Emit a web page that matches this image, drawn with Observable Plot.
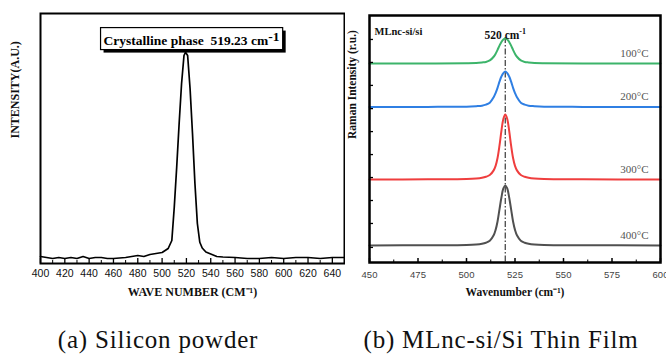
<!DOCTYPE html>
<html><head><meta charset="utf-8">
<script src="https://cdn.jsdelivr.net/npm/d3@7"></script>
<script src="https://cdn.jsdelivr.net/npm/@observablehq/plot@0.6"></script>
<style>
body{margin:0;background:#fff;}
#wrap{position:relative;width:666px;height:354px;overflow:hidden;background:#fff;}
#a{position:absolute;left:0;top:0;}
#b{position:absolute;left:345px;top:0;}
.cap{position:absolute;top:327px;line-height:25px;font-family:"Liberation Serif",serif;font-size:25px;letter-spacing:0.8px;color:#111;white-space:nowrap;transform:translateX(-50%);}
</style>
</head><body>
<div id="wrap">
  <div id="a"></div>
  <div id="b"></div>
  <div class="cap" id="capA" style="left:158px">(a) Silicon powder</div>
  <div class="cap" id="capB" style="left:501px">(b) MLnc-si/Si Thin Film</div>
</div>
<script>
// ---------- Panel (a): silicon powder Raman spectrum ----------
const powderWn  = [400,405,410,415,420,425,430,435,440,445,450,455,460,470,480,485,490,495,500,505,508,510,512,514,516,518,519.23,521,523,525,527,529,531,533,536,540,545,550,560,570,580,590,600,610,620,630,640,650];
const powderInt = [28,24,20,24,20,24,20,28,20,24,24,20,20,24,32,28,36,40,44,60,92,225,385,559,719,832,845,832,700,520,320,160,85,62,46,38,28,26,24,20,20,24,20,24,24,20,24,24];
const powderTicks = [400,420,440,460,480,500,520,540,560,580,600,620,640];
const powderMinor = [410,430,450,470,490,510,530,550,570,590,610,630,650];
const peakWn = 519.23;
const peakLabel = "Crystalline phase\u00a0\u00a0519.23 cm";

// ---------- Panel (b): MLnc-si/Si thin film spectra ----------
const filmWn = [450,480,500,505,508,510,512,514,515,516,517,518,519,520,521,522,523,524,525,526,528,530,532,535,540,560,600];
const temps = ["100°C","200°C","300°C","400°C"];
const colors = ["#3cb46a","#2f7fe3","#ef3e3e","#505050"];
const int100 = [80.6,80.6,80.7,80.8,81.0,81.2,81.8,83.3,84.5,86.1,87.8,89.3,90.3,90.7,90.3,89.3,87.8,86.1,84.5,83.3,81.8,81.2,81.0,80.8,80.7,80.6,80.6];
const int200 = [63.0,63.0,63.1,63.3,63.5,63.9,64.7,66.9,68.6,70.7,73.2,75.3,76.7,77.3,76.7,75.3,73.2,70.7,68.6,66.9,64.7,63.9,63.5,63.3,63.1,63.0,63.0];
const int300 = [33.6,33.7,33.8,34.0,34.3,34.7,35.4,37.3,39.1,42.3,47.3,53.3,58.1,59.9,58.1,53.3,47.3,42.3,39.1,37.3,35.4,34.7,34.3,34.0,33.8,33.7,33.6];
const int400 = [6.9,7.0,7.1,7.3,7.6,8.0,8.8,11.0,13.2,16.6,21.5,26.3,30.0,31.2,30.0,26.3,21.5,16.6,13.2,11.0,8.8,8.0,7.6,7.3,7.1,7.0,6.9];
const filmTicks = [450,475,500,525,550,575,600];
const filmMinor = [462.5,487.5,512.5,537.5,562.5,587.5];
const filmYTicks = [6.1,15.8,25.1,34.4,43.7,53.0,62.3,71.7,81.0,90.3];
const refWn = 520;

// ---------- build tables ----------
const powder = powderWn.map((w,i)=>({wn:w, int:powderInt[i]}));
const filmSeries = [int100,int200,int300,int400];
const film = filmSeries.flatMap((s,k)=>s.map((v,i)=>({wn:filmWn[i], int:v, temp:temps[k]})));
const tempLabels = filmSeries.map((s,k)=>({wn:filmWn[filmWn.length-1], int:s[s.length-1], temp:temps[k]}));

const serifB = {fontFamily:"Liberation Serif", fontWeight:"bold", fill:"#111"};

const plotA = Plot.plot({
  width:345, height:310,
  marginLeft:40, marginRight:1, marginTop:13, marginBottom:47,
  x:{domain:[400,650]},
  y:{domain:[0,1000], axis:null},
  style:{fontFamily:"Liberation Sans", fontSize:"10px", color:"#111", background:"transparent"},
  marks:[
    Plot.line(powder,{x:"wn", y:"int", stroke:"#000", strokeWidth:1.7, strokeLinejoin:"round"}),
    Plot.tickX(powderTicks,{x:d=>d, insetTop:245, stroke:"#000", strokeWidth:1.3}),
    Plot.tickX(powderMinor,{x:d=>d, insetTop:247, stroke:"#000", strokeWidth:1}),
    Plot.axisX({ticks:powderTicks, tickSize:0, tickPadding:6.5, label:null, fontSize:10.5}),
    Plot.frame({stroke:"#000", strokeWidth:2}),
    Plot.text([{wn:peakWn}],{x:"wn", frameAnchor:"top", dy:22, dx:6, text:()=>peakLabel, fontSize:13.5, ...serifB, fill:"#000"}),
    Plot.text(["INTENSITY(A.U.)"],{frameAnchor:"left", dx:-25, rotate:-90, text:d=>d, fontSize:12, ...serifB}),
    Plot.text(["WAVE NUMBER (CM\u207B\u00B9)"],{frameAnchor:"bottom", dy:32, text:d=>d, fontSize:12, ...serifB})
  ]
});
document.getElementById("a").appendChild(plotA);

const plotB = Plot.plot({
  width:321, height:310,
  marginLeft:24, marginRight:6, marginTop:15, marginBottom:48,
  x:{domain:[450,600]},
  y:{domain:[0,100], axis:null},
  color:{domain:temps, range:colors},
  style:{fontFamily:"Liberation Sans", fontSize:"9px", color:"#444", background:"transparent"},
  marks:[
    Plot.ruleX([refWn],{x:d=>d, insetTop:22, stroke:"#555", strokeWidth:1.4, strokeDasharray:"6,2,1.5,2"}),
    Plot.line(film,{x:"wn", y:"int", z:"temp", stroke:"temp", strokeWidth:2, curve:"catmull-rom"}),
    Plot.tickX(filmTicks,{x:d=>d, insetTop:243, stroke:"#000", strokeWidth:1.5}),
    Plot.tickX(filmMinor,{x:d=>d, insetTop:244.5, stroke:"#000", strokeWidth:1}),
    Plot.tickY(filmYTicks,{y:d=>d, insetRight:287, stroke:"#000", strokeWidth:1.3}),
    Plot.axisX({ticks:filmTicks, tickSize:0, tickPadding:9, label:null, fontSize:9.5, fill:"#444"}),
    Plot.frame({stroke:"#000", strokeWidth:2.5}),
    Plot.text([refWn],{x:d=>d, frameAnchor:"top", dy:15, text:d=>d+" cm", fontSize:11.5, ...serifB}),
    Plot.text(["MLnc-si/si"],{frameAnchor:"top-left", textAnchor:"start", dx:5, dy:12, text:d=>d, fontSize:10.5, ...serifB}),
    Plot.text(tempLabels,{x:"wn", y:"int", text:"temp", textAnchor:"end", dx:-12, dy:-10, fontSize:11, fontFamily:"Liberation Serif", fill:"#555"}),
    Plot.text(["Raman Intensity (r.u.)"],{frameAnchor:"left", dx:-17, rotate:-90, text:d=>d, fontSize:11.5, ...serifB}),
    Plot.text(["Wavenumber (cm\u207B\u00B9)"],{frameAnchor:"bottom", dy:33, text:d=>d, fontSize:11.5, ...serifB})
  ]
});
document.getElementById("b").appendChild(plotB);

// superscripts and the annotation box
function findText(svg, content){
  return d3.select(svg).selectAll("text").filter(function(){ return this.textContent === content; });
}
const annText = findText(plotA, peakLabel);
if (!annText.empty()) {
  annText.append("tspan").attr("dy", -4).text("-1");
  const node = annText.node();
  const bb = node.getBBox();
  const tr = node.getAttribute("transform");
  const padX = 3, padY = 1.5;
  const parent = node.parentNode;
  const shadow = document.createElementNS("http://www.w3.org/2000/svg","rect");
  const box = document.createElementNS("http://www.w3.org/2000/svg","rect");
  for (const [r,off] of [[shadow,3],[box,0]]) {
    r.setAttribute("x", bb.x - padX + off);
    r.setAttribute("y", bb.y - padY + off);
    r.setAttribute("width", bb.width + 2*padX);
    r.setAttribute("height", bb.height + 2*padY);
    if (tr) r.setAttribute("transform", tr);
    parent.insertBefore(r, node);
  }
  shadow.setAttribute("fill","#000");
  box.setAttribute("fill","#fff");
  box.setAttribute("stroke","#000");
  box.setAttribute("stroke-width","1.2");
}
const refT = findText(plotB, refWn + " cm");
if (!refT.empty()) refT.append("tspan").attr("dy",-5).attr("font-size",8).text("-1");
</script>
</body></html>
